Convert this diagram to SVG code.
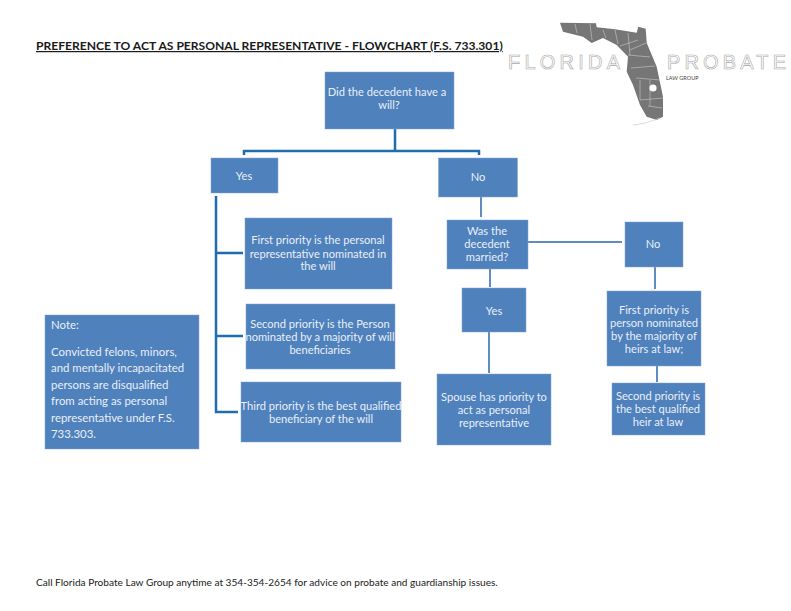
<svg xmlns="http://www.w3.org/2000/svg" width="791" height="611" viewBox="0 0 791 611">
<style>
.box{fill:#4f81bd;stroke:#7fa5d2;stroke-width:.5}
.t{font-family:Lato,"Open Sans",sans-serif;font-size:11.1px;fill:#e9eff7;text-anchor:middle}
.n{font-size:11.4px}
.l{text-anchor:start}
.dark{font-family:Lato,"Open Sans",sans-serif;fill:#1a1a1a}
.c1{fill:none;stroke:#1f6cb0;stroke-width:2.5}
.c2{fill:none;stroke:#5f8dbf;stroke-width:2}
.logo{font-family:"Liberation Sans",sans-serif;font-size:20px;fill:#fff;stroke:#a8a8a8;stroke-width:.6}
.county{fill:none;stroke:#c9c9c9;stroke-width:.6}
</style>
<rect width="791" height="611" fill="#fff"/>
<g id="logo">
<path fill="#767676" d="M560 22.7L596 23.3L596.7 27.3L615 29.3L636.7 32.7L638.3 26.7L645.7 28.7L646.7 43L656.7 66.7L663 96.7L663 116.7L656.7 120L646.7 116.7L640 105L633 85L626.7 71.7L628 56.7L616.7 45L603 38L591.7 43L583 36.7L563 31.7Z"/>
<path class="county" d="M575 24L577 33M590 24L592 40M603 30L606 38M615 30L618 44M628 33L630 55M638 40L620 46M628 55L650 57M631 68L655 66M636 78L660 80M640 80L640 100M650 80L650 106M640 100L663 98M648 106L662 108M646 43L630 50"/>
<circle cx="653" cy="88" r="3.6" fill="#fff"/>
<path fill="none" stroke="#ccc" stroke-width=".7" d="M633 125Q645 124 660 118"/>
<text class="logo" x="508" y="69" textLength="112" lengthAdjust="spacing">FLORIDA</text>
<text class="logo" x="667" y="69" textLength="119" lengthAdjust="spacing">PROBATE</text>
<text x="666" y="80" font-family="Lato,sans-serif" font-size="5.5" fill="#444">LAW GROUP</text>
</g>
<g id="title">
<text class="dark" x="36" y="50" font-size="12.100" font-weight="700" text-decoration="underline">PREFERENCE TO ACT AS PERSONAL REPRESENTATIVE - FLOWCHART (F.S. 733.301)</text>
</g>
<g id="connectors">
<path class="c1" d="M395 129V151M244 155V151H479V155"/>
<path class="c1" d="M216 196V412H238M216 253H243M216 336H243"/>
<path class="c2" d="M481 197V217M490 269V287M489 332V373M528 242H622M655 267V289M657 366V382"/>
</g>
<g id="n-top"><rect class="box" x="325" y="72" width="129" height="57"/><text class="t" x="387" y="96">Did the decedent have a</text><text class="t" x="389" y="109">will?</text></g>
<g id="n-yes"><rect class="box" x="211" y="158" width="67" height="35"/><text class="t" x="244" y="180">Yes</text></g>
<g id="n-no"><rect class="box" x="438.500" y="158" width="79" height="39"/><text class="t" x="478" y="181">No</text></g>
<g id="n-first"><rect class="box" x="245" y="218" width="147" height="71"/><text class="t" x="318" y="244">First priority is the personal</text><text class="t" x="318" y="258">representative nominated in</text><text class="t" x="318" y="270">the will</text></g>
<g id="n-second"><rect class="box" x="246" y="304" width="149" height="65"/><text class="t" x="320" y="328">Second priority is the Person</text><text class="t" x="320" y="341">nominated by a majority of will</text><text class="t" x="320" y="354">beneficiaries</text></g>
<g id="n-third"><rect class="box" x="241" y="382" width="160" height="60"/><text class="t" x="321" y="410">Third priority is the best qualified</text><text class="t" x="321" y="423">beneficiary of the will</text></g>
<g id="n-married"><rect class="box" x="447" y="220" width="81" height="49"/><text class="t" x="487" y="235">Was the</text><text class="t" x="487" y="248">decedent</text><text class="t" x="487" y="261">married?</text></g>
<g id="n-yes2"><rect class="box" x="462" y="288" width="64" height="44"/><text class="t" x="494" y="315">Yes</text></g>
<g id="n-no2"><rect class="box" x="625" y="222" width="58" height="45"/><text class="t" x="653" y="248">No</text></g>
<g id="n-spouse"><rect class="box" x="437" y="374" width="114" height="71"/><text class="t" x="494" y="401">Spouse has priority to</text><text class="t" x="494" y="414">act as personal</text><text class="t" x="494" y="427">representative</text></g>
<g id="n-first2"><rect class="box" x="607" y="291" width="94" height="75"/><text class="t" x="654" y="314">First priority is</text><text class="t" x="654" y="327">person nominated</text><text class="t" x="654" y="340">by the majority of</text><text class="t" x="654" y="353">heirs at law;</text></g>
<g id="n-second2"><rect class="box" x="612" y="383" width="93" height="52"/><text class="t" x="658" y="400">Second priority is</text><text class="t" x="658" y="413">the best qualified</text><text class="t" x="658" y="426">heir at law</text></g>
<g id="n-note"><rect class="box" x="45" y="315" width="154" height="134"/>
<text class="t l n" x="51" y="329">Note:</text>
<text class="t l n" x="51" y="356">Convicted felons, minors,</text>
<text class="t l n" x="51" y="372">and mentally incapacitated</text>
<text class="t l n" x="51" y="389">persons are disqualified</text>
<text class="t l n" x="51" y="405">from acting as personal</text>
<text class="t l n" x="51" y="422">representative under F.S.</text>
<text class="t l n" x="51" y="438">733.303.</text></g>
<g id="footer"><text class="dark" x="36" y="586" font-size="10.100">Call Florida Probate Law Group anytime at 354-354-2654 for advice on probate and guardianship issues.</text></g>
</svg>
